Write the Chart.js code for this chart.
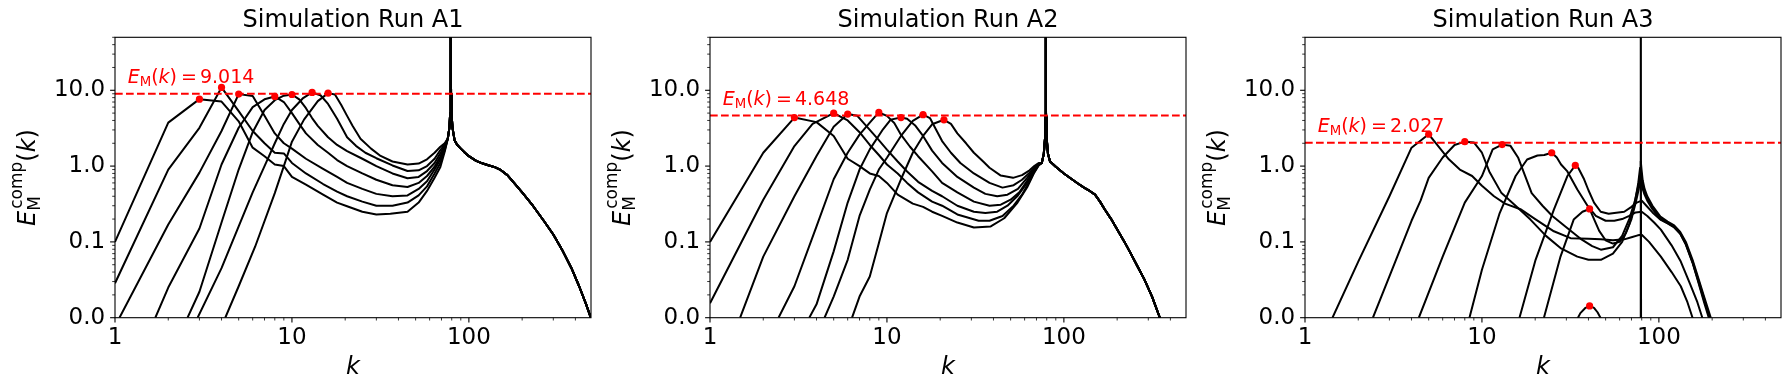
<!DOCTYPE html>
<html lang="en">
<head>
    <meta charset="UTF-8">
    <title>Simulation Runs A1-A3: compressive magnetic spectra</title>
    <script src="https://cdn.jsdelivr.net/npm/chart.js"></script>
    <style>
        body { margin: 0; background: #fff; }
        .wrap { position: relative; width: 1790px; height: 390px; }
        .panel { position: absolute; top: 0; width: 595px; height: 390px; }
    </style>
</head>
<body>
    <div class="wrap">
        <div class="panel" style="left:0px"><canvas id="runA1" width="595" height="390"></canvas></div>
        <div class="panel" style="left:595px"><canvas id="runA2" width="595" height="390"></canvas></div>
        <div class="panel" style="left:1190px"><canvas id="runA3" width="595" height="390"></canvas></div>
    </div>

    <script>
        // ---- data: [k, E] pairs, one array per curve ----
        const runTitles = ['Simulation Run A1', 'Simulation Run A2', 'Simulation Run A3'];
        const meanLevels = [9.014, 4.648, 2.027];

        const xMajor = [1, 10, 100];
        const yMajor = [0.01, 0.1, 1, 10];
        const minorSteps = [2, 3, 4, 5, 6, 7, 8, 9];
        const kMin = 1, kMax = 490, eMin = 0.01, eMax = 50;

        // Run A1
        const a1c1 = [[1,0.1],[2,3.75],[3,7.64],[4,7.1],[5,3.9],[6,1.75],[7,1.35],[8,1.05],[9,1.0],[10,0.72],[12,0.57],[15,0.42],[18,0.33],[20.5,0.295],[25,0.25],[30,0.23],[36,0.235],[45,0.25],[52,0.33],[58,0.47],[64,0.7],[69,0.97],[73,1.55]];
        const a1c2 = [[1,0.0285],[2,0.9],[3,3.2],[4,10.9],[5,5.3],[6,2.9],[7,2.0],[8,1.5],[9,1.47],[10,1.1],[12,0.8],[15,0.58],[18,0.46],[20.5,0.4],[25,0.34],[30,0.3],[37,0.3],[45,0.33],[52,0.41],[58,0.54],[64,0.8],[69,1.1],[73,1.62]];
        const a1c3 = [[1.06,0.01],[2,0.17],[3,0.82],[4,2.9],[5,8.9],[6,8.4],[7,4.6],[8,2.7],[9,2.0],[10,1.7],[12,1.25],[15,0.92],[18,0.72],[20.5,0.6],[25,0.5],[30,0.43],[37,0.4],[45,0.41],[52,0.5],[58,0.63],[64,0.9],[69,1.22],[73,1.7]];
        const a1c4 = [[1.69,0.01],[2,0.025],[3,0.15],[4,1.05],[5,3.2],[6,6.0],[7,7.6],[8,8.3],[9,7.0],[10,5.0],[11,3.6],[12,2.7],[14,1.9],[16,1.5],[18,1.2],[20.5,1.0],[25,0.8],[30,0.66],[37,0.56],[45,0.53],[52,0.6],[58,0.74],[64,0.98],[69,1.34],[73,1.78]];
        const a1c5 = [[2.57,0.01],[3,0.022],[4,0.18],[5,0.9],[6,2.8],[7,5.5],[8,7.4],[9,8.5],[10,8.8],[11,7.6],[12,5.8],[13,4.3],[14,3.4],[16,2.4],[18,1.9],[20.5,1.58],[25,1.25],[30,1.0],[37,0.8],[45,0.69],[52,0.72],[58,0.86],[64,1.1],[69,1.48],[73,1.85]];
        const a1c6 = [[2.93,0.01],[4,0.045],[5,0.16],[6,0.45],[7,1.0],[8,2.0],[9,3.6],[10,5.5],[11.5,7.8],[13,9.36],[14.5,8.6],[16,6.6],[18,4.2],[20.5,2.4],[23,1.85],[26,1.5],[30,1.27],[37,1.02],[45,0.86],[52,0.88],[58,1.0],[64,1.25],[69,1.63],[73,1.93]];
        const a1c7 = [[4.2,0.01],[5,0.026],[6.2,0.087],[8,0.44],[9,1.0],[10,2.1],[11.7,4.1],[14,7.2],[16,9.17],[17.5,8.8],[19,6.4],[20.5,4.6],[22,3.4],[24.4,2.3],[28,1.7],[31.7,1.36],[37,1.15],[45,1.05],[52,1.08],[58,1.23],[64,1.5],[69,1.8],[73,2.0]];
        const a1Spike = [[76,2.3],[77.6,3.2],[78.4,5],[78.8,9],[79,300],[79.3,9],[79.8,5],[80.8,3.2],[83,2.2]];
        const a1Tail = [[86,1.9],[90,1.7],[95,1.5],[100,1.35],[110,1.17],[120,1.08],[130,1.02],[140,0.97],[150,0.9],[165,0.76],[180,0.6],[200,0.45],[230,0.3],[265,0.19],[300,0.125],[340,0.075],[380,0.045],[420,0.026],[460,0.015],[490,0.0098]];
        const a1Peaks = [[3,7.64],[4,10.9],[5,8.9],[8,8.3],[10,8.8],[13,9.36],[16,9.17]];

        // Run A2
        const a2c1 = [[1,0.1],[2,1.5],[3,4.37],[4,3.8],[5,2.5],[6,1.25],[7,1.0],[8,0.8],[9,0.74],[10,0.6],[11.5,0.42],[14,0.32],[16,0.29],[18,0.25],[20.5,0.22],[25,0.18],[31,0.155],[38.6,0.16],[46,0.205],[54.7,0.33],[62.4,0.54],[68,0.82],[72,1.02]];
        const a2c2 = [[1,0.0155],[2,0.36],[3,1.84],[3.8,3.6],[5,4.99],[6,4.0],[7,2.8],[8,1.9],[9,1.4],[10,1.05],[11.5,0.8],[13,0.6],[15,0.45],[18,0.34],[20.5,0.3],[25,0.23],[33,0.19],[38,0.19],[45,0.22],[52,0.3],[58,0.42],[64,0.63],[68,0.84],[72,1.03]];
        const a2c3 = [[1.48,0.01],[2,0.064],[3,0.4],[4,1.36],[5,3.3],[6,4.85],[6.8,4.6],[8,3.0],[9,2.2],[10,1.65],[11.5,1.15],[13,0.85],[15,0.62],[18,0.47],[20.5,0.4],[25,0.3],[31,0.25],[36,0.24],[42,0.25],[48,0.3],[55,0.41],[62,0.6],[68,0.87],[72,1.04]];
        const a2c4 = [[2.44,0.01],[3,0.026],[4,0.16],[5,0.67],[6,1.5],[7,2.6],[8,3.75],[9,5.1],[10,4.6],[11,3.7],[12,2.6],[13.5,1.8],[15,1.35],[18,0.85],[20.5,0.6],[25,0.45],[31,0.34],[38,0.3],[44,0.31],[50,0.36],[56,0.45],[62,0.64],[68,0.89],[72,1.05]];
        const a2c5 = [[3.64,0.01],[4,0.015],[5,0.075],[6,0.33],[7,0.9],[8,1.66],[9.5,3.06],[10.5,4.1],[12,4.37],[13,4.2],[14.5,3.4],[16,2.5],[18,1.6],[20.5,1.1],[25,0.72],[31,0.52],[36,0.43],[42,0.4],[48,0.42],[55,0.5],[62,0.7],[68,0.92],[72,1.06]];
        const a2c6 = [[4.44,0.01],[5,0.019],[6,0.058],[7,0.22],[8,0.49],[9,0.9],[10,1.29],[12,2.5],[14,3.95],[16,4.76],[17.5,4.3],[19,3.0],[20.5,2.14],[23,1.5],[26,1.1],[31,0.8],[38,0.6],[45,0.52],[52,0.56],[58,0.66],[64,0.82],[68,0.95],[72,1.07]];
        const a2c7 = [[6.35,0.01],[7,0.019],[8,0.035],[9,0.096],[10,0.24],[12,0.67],[14,1.5],[16,2.5],[18,3.56],[21,4.08],[23,3.6],[25,2.7],[28,2.0],[31,1.5],[35,1.15],[38,0.95],[44,0.75],[51.6,0.7],[58,0.76],[64,0.88],[68,1.0],[72,1.1]];
        const a2Spike = [[75,1.1],[77,1.45],[78.2,2.3],[78.8,4.5],[79,300],[79.3,4.5],[80,2.3],[81.3,1.45],[83.5,1.15]];
        const a2Tail = [[86,1.08],[90,0.98],[100,0.8],[110,0.68],[120,0.59],[130,0.52],[140,0.47],[150,0.42],[160,0.34],[170,0.27],[185,0.2],[201,0.144],[220,0.1],[239,0.07],[260,0.048],[285,0.032],[315,0.019],[347,0.0103],[360,0.008]];
        const a2Peaks = [[3,4.37],[5,4.99],[6,4.85],[9,5.1],[12,4.37],[16,4.76],[21,4.08]];

        // Run A3
        const a3c1 = [[1.43,0.01],[2,0.055],[3,0.4],[4,1.75],[5,2.63],[5.5,2.0],[6.5,1.23],[7.5,0.9],[8.8,0.74],[10,0.55],[11.7,0.4],[13.5,0.32],[16.5,0.27],[20,0.2],[25.5,0.138],[31.7,0.112],[40,0.11],[47,0.108],[55,0.105],[63.7,0.108],[70,0.115],[76,0.122],[80,0.124],[88,0.1],[102.6,0.064],[118,0.04],[133,0.026],[145,0.016],[155,0.01],[162,0.008]];
        const a3c2 = [[2.42,0.01],[3,0.035],[4,0.19],[4.5,0.35],[5,0.7],[6,1.3],[7,1.9],[8,2.1],[9,2.05],[10,1.5],[11,0.85],[12.9,0.44],[15.5,0.3],[18.8,0.197],[23,0.12],[27.8,0.083],[34.6,0.064],[40,0.058],[47,0.058],[55,0.07],[62,0.1],[68,0.17],[73,0.32],[76.5,0.6],[78.3,0.95],[79,1.16],[79.8,0.9],[81,0.65],[83,0.5],[86,0.4],[92,0.3],[102,0.215],[112,0.185],[122,0.165],[132,0.135],[142,0.1],[155,0.058],[166,0.035],[180,0.019],[197,0.0098],[205,0.008]];
        const a3c3 = [[4.4,0.01],[6,0.064],[8,0.33],[10,0.74],[11.5,1.66],[13,1.92],[14.5,1.85],[16,1.3],[17,0.9],[19.1,0.44],[22,0.3],[25,0.22],[29.6,0.16],[36.7,0.107],[42,0.088],[47,0.079],[55,0.085],[62,0.12],[68,0.2],[73,0.34],[76.5,0.55],[78.3,0.78],[79,0.9],[79.8,0.72],[81,0.56],[83,0.46],[86,0.37],[92,0.28],[102,0.205],[112,0.18],[122,0.16],[132,0.13],[142,0.095],[155,0.055],[166,0.033],[180,0.018],[194,0.0098],[200,0.008]];
        const a3c4 = [[8.5,0.01],[10,0.043],[12.6,0.24],[15.5,0.74],[18,1.22],[20.6,1.38],[22.5,1.4],[24.8,1.5],[26.5,1.3],[28,1.05],[30.4,0.85],[34.6,0.49],[39.5,0.3],[44,0.22],[50,0.19],[56,0.19],[62,0.2],[68,0.22],[74,0.245],[80,0.25],[86,0.22],[94,0.18],[102.6,0.145],[118,0.09],[133,0.055],[150,0.028],[165,0.016],[176,0.01],[185,0.007]];
        const a3c5 = [[16.3,0.01],[20.1,0.058],[25.5,0.267],[30.4,0.74],[33.7,1.02],[35,0.95],[37.8,0.67],[40,0.48],[43,0.33],[46.9,0.25],[52,0.235],[56,0.24],[63.7,0.25],[70,0.29],[75,0.33],[80,0.35],[85,0.3],[92,0.245],[102.6,0.195],[112,0.175],[122,0.155],[132,0.128],[142,0.092],[155,0.053],[166,0.031],[180,0.016],[192,0.0098],[200,0.007]];
        const a3c6 = [[22.4,0.01],[27.8,0.064],[33,0.197],[37,0.25],[40.6,0.272],[43,0.2],[46,0.14],[50,0.105],[55,0.095],[60,0.1],[65,0.13],[70,0.2],[74,0.33],[77,0.5],[78.5,0.65],[79,0.72],[79.8,0.6],[81,0.5],[83,0.42],[86,0.35],[92,0.27],[102,0.2],[112,0.177],[122,0.158],[132,0.13],[142,0.094],[155,0.054],[166,0.032],[180,0.017],[195,0.0098],[202,0.008]];
        const a3c7 = [[34.5,0.0095],[36,0.0115],[38.5,0.0135],[40.6,0.0143],[43,0.0135],[45,0.0118],[47,0.0098],[52,0.007],[78.6,0.0001],[79,10000],[79.4,0.0001],[100,0.00005]];
        const a3Peaks = [[5,2.63],[8,2.1],[13,1.92],[24.8,1.5],[33.7,1.02],[40.6,0.272],[40.6,0.0143]];

        const a1Curves = [a1c1, a1c2, a1c3, a1c4, a1c5, a1c6, a1c7].map(c => c.concat(a1Spike, a1Tail));
        const a2Curves = [a2c1, a2c2, a2c3, a2c4, a2c5, a2c6, a2c7].map(c => c.concat(a2Spike, a2Tail));
        const a3Curves = [a3c1, a3c2, a3c3, a3c4, a3c5, a3c6, a3c7];

        // ---- drawing ----
        const FONT = "'DejaVu Sans', 'Liberation Sans', sans-serif";
        const xTicks = xMajor.flatMap(d => [d, ...minorSteps.map(s => s * d)]).filter(v => v <= kMax);
        const yTicks = yMajor.flatMap(d => [d, ...minorSteps.map(s => s * d)]).filter(v => v <= eMax);
        const toXY = pts => pts.map(([x, y]) => ({x, y}));

        // lays out a run of text pieces (a piece can be a stack of sup/sub sharing one x)
        function mathRun(ctx, pieces, x0, y0, draw) {
            let x = x0;
            for (const piece of pieces) {
                const stack = Array.isArray(piece) ? piece : [piece];
                let adv = 0;
                for (const p of stack) {
                    ctx.font = (p.italic ? 'italic ' : '') + p.size + 'px ' + FONT;
                    const w = ctx.measureText(p.text).width;
                    if (draw) ctx.fillText(p.text, x + (p.dx || 0), y0 - (p.rise || 0));
                    adv = Math.max(adv, w + (p.dx || 0) + (p.after || 0));
                }
                x += adv;
            }
            return x - x0;
        }

        const decor = {
            id: 'decor',
            afterDatasetsDraw(chart, args, opts) {
                const {ctx, chartArea: a, scales: {x, y}} = chart;
                ctx.save();
                ctx.strokeStyle = '#000';
                ctx.fillStyle = '#000';

                // tick marks (major / minor like matplotlib)
                x.ticks.forEach(t => {
                    const major = xMajor.includes(t.value);
                    const px = x.getPixelForValue(t.value);
                    ctx.lineWidth = major ? 1.1 : 0.8;
                    ctx.beginPath();
                    ctx.moveTo(px, a.bottom);
                    ctx.lineTo(px, a.bottom + (major ? 4.9 : 2.8));
                    ctx.stroke();
                });
                y.ticks.forEach(t => {
                    const major = yMajor.includes(t.value);
                    const py = y.getPixelForValue(t.value);
                    ctx.lineWidth = major ? 1.1 : 0.8;
                    ctx.beginPath();
                    ctx.moveTo(a.left, py);
                    ctx.lineTo(a.left - (major ? 4.9 : 2.8), py);
                    ctx.stroke();
                });

                // frame
                ctx.lineWidth = 1.1;
                ctx.strokeRect(a.left, a.top, a.right - a.left, a.bottom - a.top);

                // red level annotation
                ctx.textAlign = 'left';
                ctx.textBaseline = 'alphabetic';
                ctx.fillStyle = 'red';
                const ann = [
                    {text: 'E', size: 19, italic: true},
                    {text: 'M', size: 13.3, rise: -3.5},
                    {text: '(', size: 19},
                    {text: 'k', size: 19, italic: true},
                    {text: ')', size: 19, after: 4},
                    {text: '=', size: 19, after: 3},
                    {text: opts.level.toFixed(3), size: 19}
                ];
                mathRun(ctx, ann, x.getPixelForValue(1.18), y.getPixelForValue(opts.level) - 11, true);

                // y axis label, rotated
                ctx.fillStyle = '#000';
                const lab = [
                    {text: 'E', size: 24, italic: true},
                    [{text: 'comp', size: 17, rise: 13, dx: 2}, {text: 'M', size: 17, rise: -5}],
                    {text: '(', size: 24},
                    {text: 'k', size: 24, italic: true},
                    {text: ')', size: 24}
                ];
                const w = mathRun(ctx, lab, 0, 0, false);
                ctx.translate(34.5, (a.top + a.bottom) / 2);
                ctx.rotate(-Math.PI / 2);
                mathRun(ctx, lab, -w / 2, 0, true);
                ctx.restore();
            }
        };

        function buildPanel(id, title, curves, peaks, level) {
            const datasets = [
                {
                    data: toXY(peaks),
                    showLine: false,
                    pointRadius: 3.6,
                    pointBackgroundColor: 'red',
                    pointBorderWidth: 0
                },
                {
                    data: [{x: kMin, y: level}, {x: kMax, y: level}],
                    borderColor: 'red',
                    borderWidth: 2,
                    borderDash: [7.7, 3.3],
                    pointRadius: 0,
                    clip: 0
                },
                ...curves.map(c => ({
                    data: toXY(c),
                    borderColor: '#000',
                    borderWidth: 2,
                    borderJoinStyle: 'round',
                    pointRadius: 0,
                    clip: 0
                }))
            ];

            return new Chart(document.getElementById(id), {
                type: 'line',
                data: {datasets},
                plugins: [decor],
                options: {
                    responsive: false,
                    animation: false,
                    events: [],
                    layout: {padding: {left: 0, right: 4, top: 0, bottom: 0}},
                    scales: {
                        x: {
                            type: 'logarithmic',
                            min: kMin,
                            max: kMax,
                            grid: {display: false, drawTicks: false},
                            border: {display: false},
                            afterBuildTicks: s => { s.ticks = xTicks.map(v => ({value: v})); },
                            afterFit: s => { s.height = 72.3; },
                            ticks: {
                                autoSkip: false,
                                maxRotation: 0,
                                padding: 7,
                                color: '#000',
                                font: {family: FONT, size: 23},
                                callback: v => xMajor.includes(v) ? String(v) : ''
                            },
                            title: {
                                display: true,
                                text: 'k',
                                color: '#000',
                                font: {family: FONT, size: 24, style: 'italic'},
                                padding: {top: 0, bottom: 8}
                            }
                        },
                        y: {
                            type: 'logarithmic',
                            min: eMin,
                            max: eMax,
                            grid: {display: false, drawTicks: false},
                            border: {display: false},
                            afterBuildTicks: s => { s.ticks = yTicks.map(v => ({value: v})); },
                            afterFit: s => { s.width = 115; },
                            ticks: {
                                autoSkip: false,
                                padding: 9.8,
                                color: '#000',
                                font: {family: FONT, size: 23},
                                callback: v => yMajor.includes(v) ? v.toFixed(1) : ''
                            }
                        }
                    },
                    plugins: {
                        legend: {display: false},
                        tooltip: {enabled: false},
                        title: {
                            display: true,
                            text: title,
                            color: '#000',
                            fullSize: false,
                            font: {family: FONT, size: 24, weight: 'normal'},
                            padding: {top: 6, bottom: 2.5}
                        },
                        decor: {level}
                    }
                }
            });
        }

        buildPanel('runA1', runTitles[0], a1Curves, a1Peaks, meanLevels[0]);
        buildPanel('runA2', runTitles[1], a2Curves, a2Peaks, meanLevels[1]);
        buildPanel('runA3', runTitles[2], a3Curves, a3Peaks, meanLevels[2]);
    </script>
</body>
</html>
